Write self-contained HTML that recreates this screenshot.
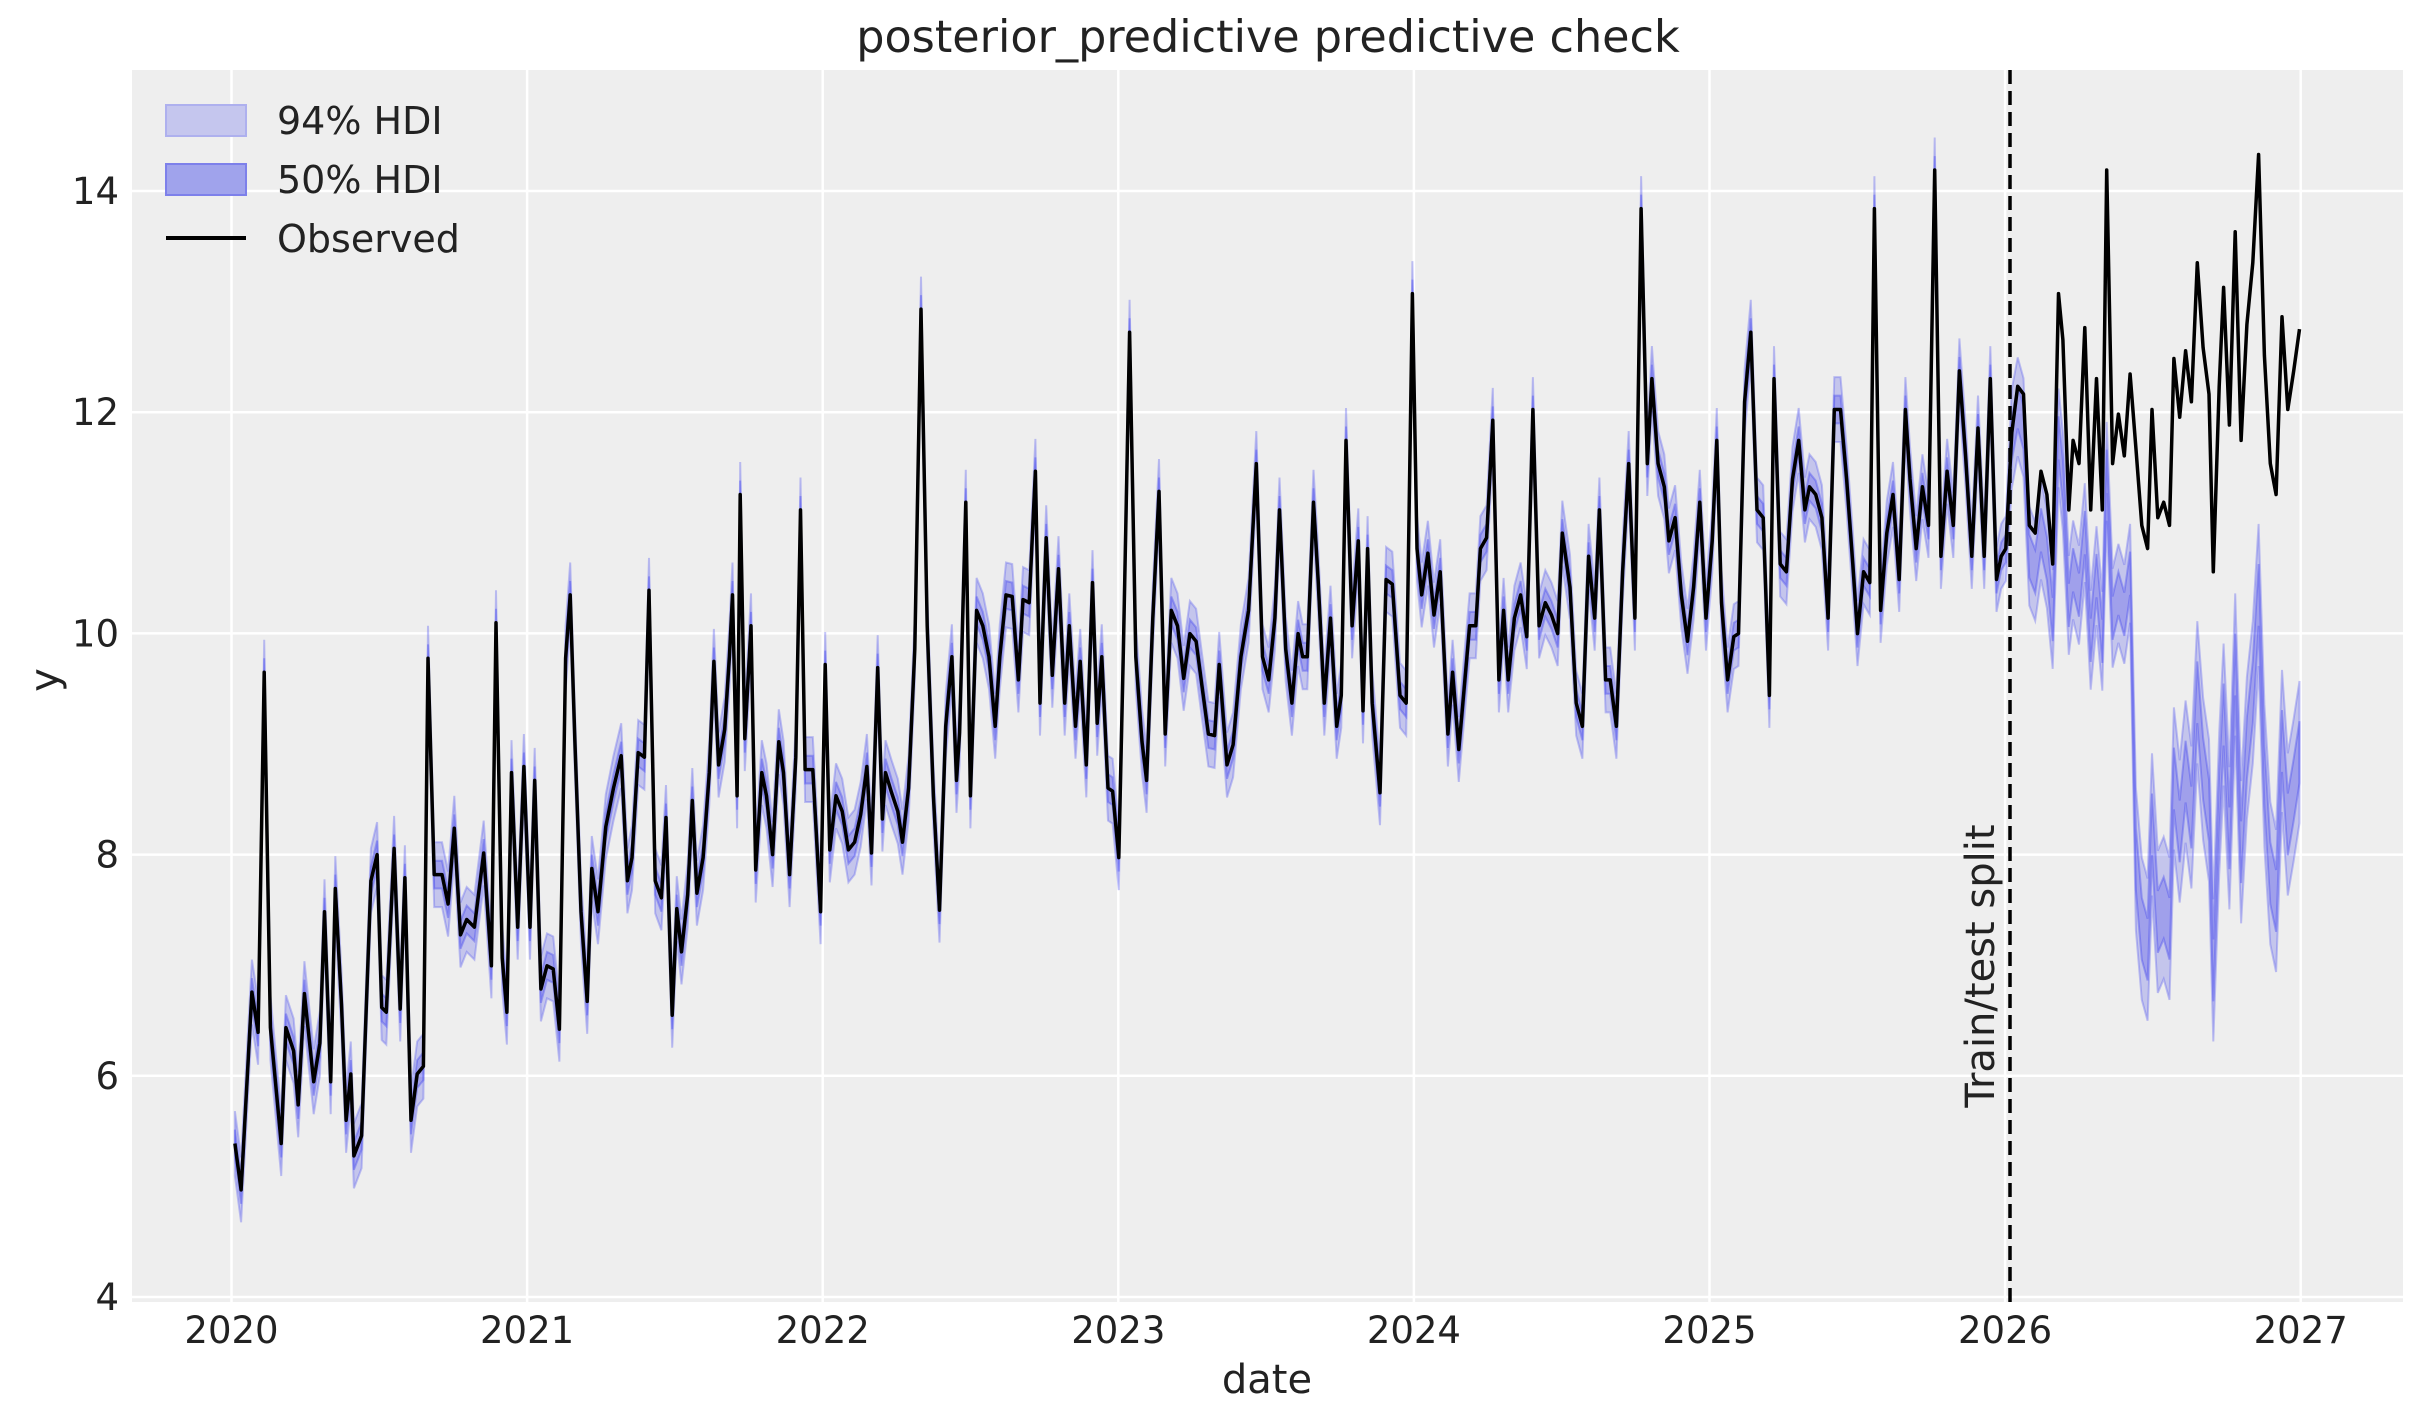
<!DOCTYPE html>
<html><head><meta charset="utf-8"><style>
html,body{margin:0;padding:0;background:#fff;}
svg{display:block;font-family:"DejaVu Sans","Liberation Sans",sans-serif;}
</style></head><body>
<svg id="s" width="2423" height="1423" viewBox="0 0 2423 1423" xmlns="http://www.w3.org/2000/svg">
<rect x="132" y="70" width="2271" height="1232" fill="#eeeeee"/>
<g id="grid" stroke="#ffffff" stroke-width="2.5"></g>
<g id="bands"></g>
<g id="lines"></g>
<line x1="2010" y1="70" x2="2010" y2="1302" stroke="#000" stroke-width="3.5" stroke-dasharray="14,7"/>
<text x="0" y="0" transform="translate(1994,966) rotate(-90)" font-size="40" text-anchor="middle" fill="#222">Train/test split</text>
<text x="1268" y="52" font-size="44.5" text-anchor="middle" fill="#222">posterior_predictive predictive check</text>
<text x="1267" y="1393" font-size="40" text-anchor="middle" fill="#222">date</text>
<text x="0" y="0" transform="translate(58,680) rotate(-90)" font-size="40" text-anchor="middle" fill="#222">y</text>
<g id="ticks" font-size="37" fill="#222"></g>
<g>
<rect x="166" y="105" width="80" height="31" fill="#c5c6ee" stroke="#aeb0ee" stroke-width="2"/>
<rect x="166" y="164" width="80" height="31" fill="#a0a3ec" stroke="#7d80ea" stroke-width="2"/>
<line x1="166" y1="238" x2="246" y2="238" stroke="#000" stroke-width="4"/>
<text x="277" y="134" font-size="38" fill="#222">94% HDI</text>
<text x="277" y="193" font-size="38" fill="#222">50% HDI</text>
<text x="277" y="252" font-size="38" fill="#222">Observed</text>
</g>
</svg>
<script>
const NS="http://www.w3.org/2000/svg";
function el(p,t,a,txt){const e=document.createElementNS(NS,t);for(const k in a)e.setAttribute(k,a[k]);if(txt!==undefined)e.textContent=txt;p.appendChild(e);return e;}
const g=document.getElementById('grid'),tk=document.getElementById('ticks');
const Y=v=>1297-(v-4)*110.6;
for(let v=4;v<=14;v+=2){el(g,'line',{x1:132,x2:2403,y1:Y(v),y2:Y(v)});el(tk,'text',{x:119,y:Y(v)+13,'text-anchor':'end'},String(v));}
for(let i=0;i<=7;i++){const x=231.5+i*295.6;el(g,'line',{x1:x,x2:x,y1:70,y2:1302});el(tk,'text',{x:x,y:1343,'text-anchor':'middle'},String(2020+i));}
const d=[152,740,156,770,163,642,167,668,171,435,175,665,182,740,185,665,190,680,193,715,197,643,203,700,207,675,210,590,214,700,217,575,221,650,224,725,227,695,229,748,234,735,240,570,244,553,247,652,250,655,255,549,259,653,262,568,266,725,270,695,274,690,277,426,281,566,286,566,290,585,294,536,298,605,302,595,307,600,313,552,318,625,321,403,325,620,328,655,331,500,335,600,339,496,343,600,346,505,350,640,354,625,358,627,362,666,366,426,369,385,372,480,376,590,380,648,383,562,387,590,392,535,397,510,402,489,406,570,409,555,413,487,417,490,420,382,424,570,428,581,431,529,435,657,438,588,441,616,445,579,448,518,451,578,455,555,459,500,462,428,465,495,469,472,472,425,474,385,477,515,479,320,482,478,486,405,489,563,493,500,496,515,500,553,504,480,507,500,511,566,515,490,518,330,521,498,526,498,531,590,534,430,537,550,541,515,545,525,549,550,553,545,557,527,561,496,564,552,568,432,571,530,573,500,577,513,581,525,584,545,588,510,592,420,596,200,600,405,604,515,608,589,612,470,616,425,619,505,621,474,625,325,628,515,632,395,636,405,640,425,644,470,647,425,651,385,655,386,659,440,662,388,666,390,670,305,673,455,677,348,681,437,685,368,689,455,692,405,696,470,699,428,703,495,707,377,710,468,713,425,717,510,720,512,724,555,727,420,731,215,735,425,739,480,742,505,746,400,750,318,754,475,758,395,762,405,766,439,770,410,774,415,778,445,782,475,786,476,789,430,794,495,798,482,803,425,808,395,813,300,817,425,821,440,825,400,828,330,832,420,836,455,840,410,843,425,846,425,850,325,853,375,857,455,861,400,865,470,868,450,871,285,875,405,879,350,882,460,885,355,888,455,893,513,897,375,901,378,906,450,910,455,914,190,917,355,920,385,924,358,928,398,932,370,937,475,940,435,944,485,948,440,951,405,955,405,958,355,962,348,966,272,970,440,973,395,976,440,980,400,984,385,988,412,992,265,996,405,1000,390,1004,398,1008,410,1011,345,1016,380,1020,455,1024,470,1028,360,1032,400,1035,330,1039,440,1042,440,1046,470,1050,370,1054,300,1058,400,1062,135,1066,300,1069,245,1073,300,1077,315,1080,350,1084,335,1088,385,1092,415,1096,380,1100,325,1104,400,1108,350,1111,285,1114,390,1118,440,1122,412,1125,410,1129,260,1133,215,1137,330,1141,335,1145,450,1148,245,1152,365,1156,370,1160,310,1164,285,1168,330,1171,315,1175,320,1179,335,1183,400,1187,265,1191,265,1195,310,1199,365,1202,410,1206,370,1210,377,1213,135,1217,395,1221,345,1225,320,1229,375,1233,265,1236,310,1240,355,1244,315,1248,340,1252,110,1256,360,1260,305,1264,340,1268,240,1272,295,1276,360,1280,277,1284,360,1288,245,1292,375,1295,360,1298,355,1302,280,1306,250,1310,255,1314,340,1318,345,1322,305,1326,320,1330,365,1334,190,1337,220,1341,330,1344,285,1348,300,1352,212,1356,330,1360,245,1364,330,1367,110,1371,300,1375,268,1379,295,1383,242,1387,290,1391,340,1395,355,1398,265,1402,335,1406,325,1410,340,1413,232,1417,270,1421,227,1425,260,1429,170,1433,225,1437,255,1440,370,1444,250,1447,186,1451,275,1455,150,1459,285,1463,210,1467,170,1471,100,1475,230,1479,300,1483,320,1487,205,1491,265,1495,240,1499,213];
const S=1.5453,pts=[];
for(let i=0;i<d.length;i+=2){const x=d[i]<=1300?d[i]:1300+(d[i]-1300)*0.945;pts.push([x,d[i+1]]);}
function pred(x,y){if(x<=1300)return [y,9,21];
 if(x<=1380){const t=(x-1300)/80;return [y+(400+(y-300)*0.5-y)*Math.min(1,t*1.5),14,32];}
 return [520+(y-250)*0.9,20,46];}
const b=document.getElementById('bands');
function band(w,fill,op,stroke){let up=[],dn=[];for(const [x,y] of pts){const [c,w50,w94]=pred(x,y);const ww=w==50?w50:w94;up.push((x*S).toFixed(1)+','+((c-ww)*S).toFixed(1));dn.unshift((x*S).toFixed(1)+','+((c+ww)*S).toFixed(1));}
 el(b,'polygon',{points:up.concat(dn).join(' '),fill:fill,'fill-opacity':op,stroke:stroke,'stroke-opacity':0.35,'stroke-width':2});}
band(94,'#1e22e6',0.2,'#5a5cf0');
band(50,'#1e22e6',0.22,'#3a3cf0');
el(document.getElementById('lines'),'polyline',{points:pts.map(p=>(p[0]*S).toFixed(1)+','+(p[1]*S).toFixed(1)).join(' '),fill:'none',stroke:'#000','stroke-width':3.5,'stroke-linejoin':'round'});
</script>
</body></html>
